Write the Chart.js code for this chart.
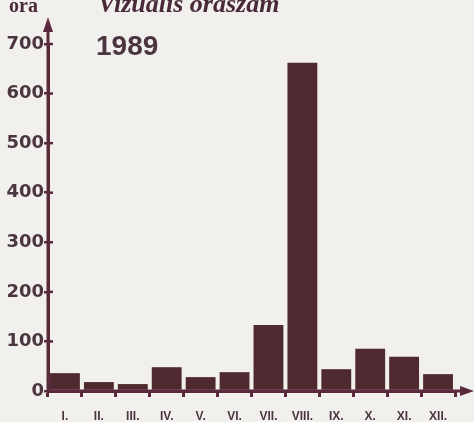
<!DOCTYPE html>
<html>
<head>
<meta charset="utf-8">
<script src="https://cdn.jsdelivr.net/npm/chart.js@4"></script>
<style>
  html, body { margin: 0; padding: 0; background: #f2f0ec; }
  #wrap { width: 474px; height: 422px; position: relative; }
</style>
</head>
<body>
<div id="wrap"><canvas id="chart" width="474" height="422"></canvas></div>
<script>
// Months (roman numerals) and hours per month, 1989
var months = ['I.', 'II.', 'III.', 'IV.', 'V.', 'VI.', 'VII.', 'VIII.', 'IX.', 'X.', 'XI.', 'XII.'];
var hours = [36, 18, 14, 48, 28, 38, 133, 662, 44, 85, 69, 34];
var yTicks = [0, 100, 200, 300, 400, 500, 600, 700];

var axisColor = '#5a2a3c';
var barColor = '#4e2a30';
var textColor = '#4a3540';

// Extra drawing: arrows on the axes, inner tick stubs, titles
var decor = {
    id: 'decor',
    afterDraw: function (chart) {
        var ctx = chart.ctx;
        var area = chart.chartArea;
        var y = chart.scales.y;
        ctx.save();
        ctx.strokeStyle = axisColor;
        ctx.fillStyle = axisColor;
        ctx.lineWidth = 3;

        // y axis extended up with an arrow
        ctx.beginPath();
        ctx.moveTo(area.left, area.bottom);
        ctx.lineTo(area.left, 26);
        ctx.stroke();
        ctx.beginPath();
        ctx.moveTo(area.left, 17);
        ctx.lineTo(area.left - 5, 32);
        ctx.lineTo(area.left + 5, 32);
        ctx.closePath();
        ctx.fill();

        // x axis extended right with an arrow
        ctx.beginPath();
        ctx.moveTo(area.left, area.bottom);
        ctx.lineTo(465, area.bottom);
        ctx.stroke();
        ctx.beginPath();
        ctx.moveTo(474, area.bottom);
        ctx.lineTo(460, area.bottom - 5);
        ctx.lineTo(460, area.bottom + 5);
        ctx.closePath();
        ctx.fill();

        // tick stubs on the inner side of the y axis
        ctx.lineWidth = 2.5;
        y.ticks.forEach(function (t) {
            if (t.value === 0) return;
            var py = y.getPixelForValue(t.value);
            ctx.beginPath();
            ctx.moveTo(area.left, py);
            ctx.lineTo(area.left + 5, py);
            ctx.stroke();
        });

        // titles
        ctx.fillStyle = '#4a2a3a';
        ctx.textBaseline = 'alphabetic';
        ctx.font = 'bold 20px "Liberation Serif"';
        ctx.fillText('óra', 9, 12);
        ctx.font = 'italic bold 26px "Liberation Serif"';
        ctx.fillText('Vizuális óraszám', 98, 12);
        ctx.fillStyle = textColor;
        ctx.font = 'bold 28px "Liberation Sans"';
        ctx.fillText('1989', 96, 55);
        ctx.restore();
    }
};

new Chart(document.getElementById('chart'), {
    type: 'bar',
    data: {
        labels: months,
        datasets: [{
            data: hours,
            backgroundColor: barColor,
            borderWidth: 0,
            barPercentage: 0.88,
            categoryPercentage: 1
        }]
    },
    options: {
        responsive: false,
        animation: false,
        layout: { padding: { top: 44, right: 19, left: 0, bottom: 0 } },
        plugins: { legend: { display: false }, tooltip: { enabled: false } },
        scales: {
            x: {
                offset: true,
                grid: {
                    offset: true,
                    drawOnChartArea: false,
                    color: axisColor,
                    lineWidth: 3,
                    tickLength: 6
                },
                border: { color: axisColor, width: 3 },
                ticks: {
                    color: textColor,
                    padding: 12,
                    maxRotation: 0,
                    font: { family: '"Liberation Sans Narrow", "Liberation Sans"', weight: 'bold', size: 12 }
                },
                afterFit: function (scale) { scale.height = 31; }
            },
            y: {
                min: 0,
                max: 700,
                afterBuildTicks: function (scale) {
                    scale.ticks = yTicks.map(function (v) { return { value: v }; });
                },
                grid: {
                    drawOnChartArea: false,
                    color: axisColor,
                    lineWidth: 2.5,
                    tickLength: 4
                },
                border: { color: axisColor, width: 3 },
                ticks: {
                    color: textColor,
                    padding: 0,
                    font: { family: '"DejaVu Sans"', weight: 'bold', size: 18 }
                },
                afterFit: function (scale) { scale.width = 48; }
            }
        }
    },
    plugins: [decor]
});
</script>
</body>
</html>
